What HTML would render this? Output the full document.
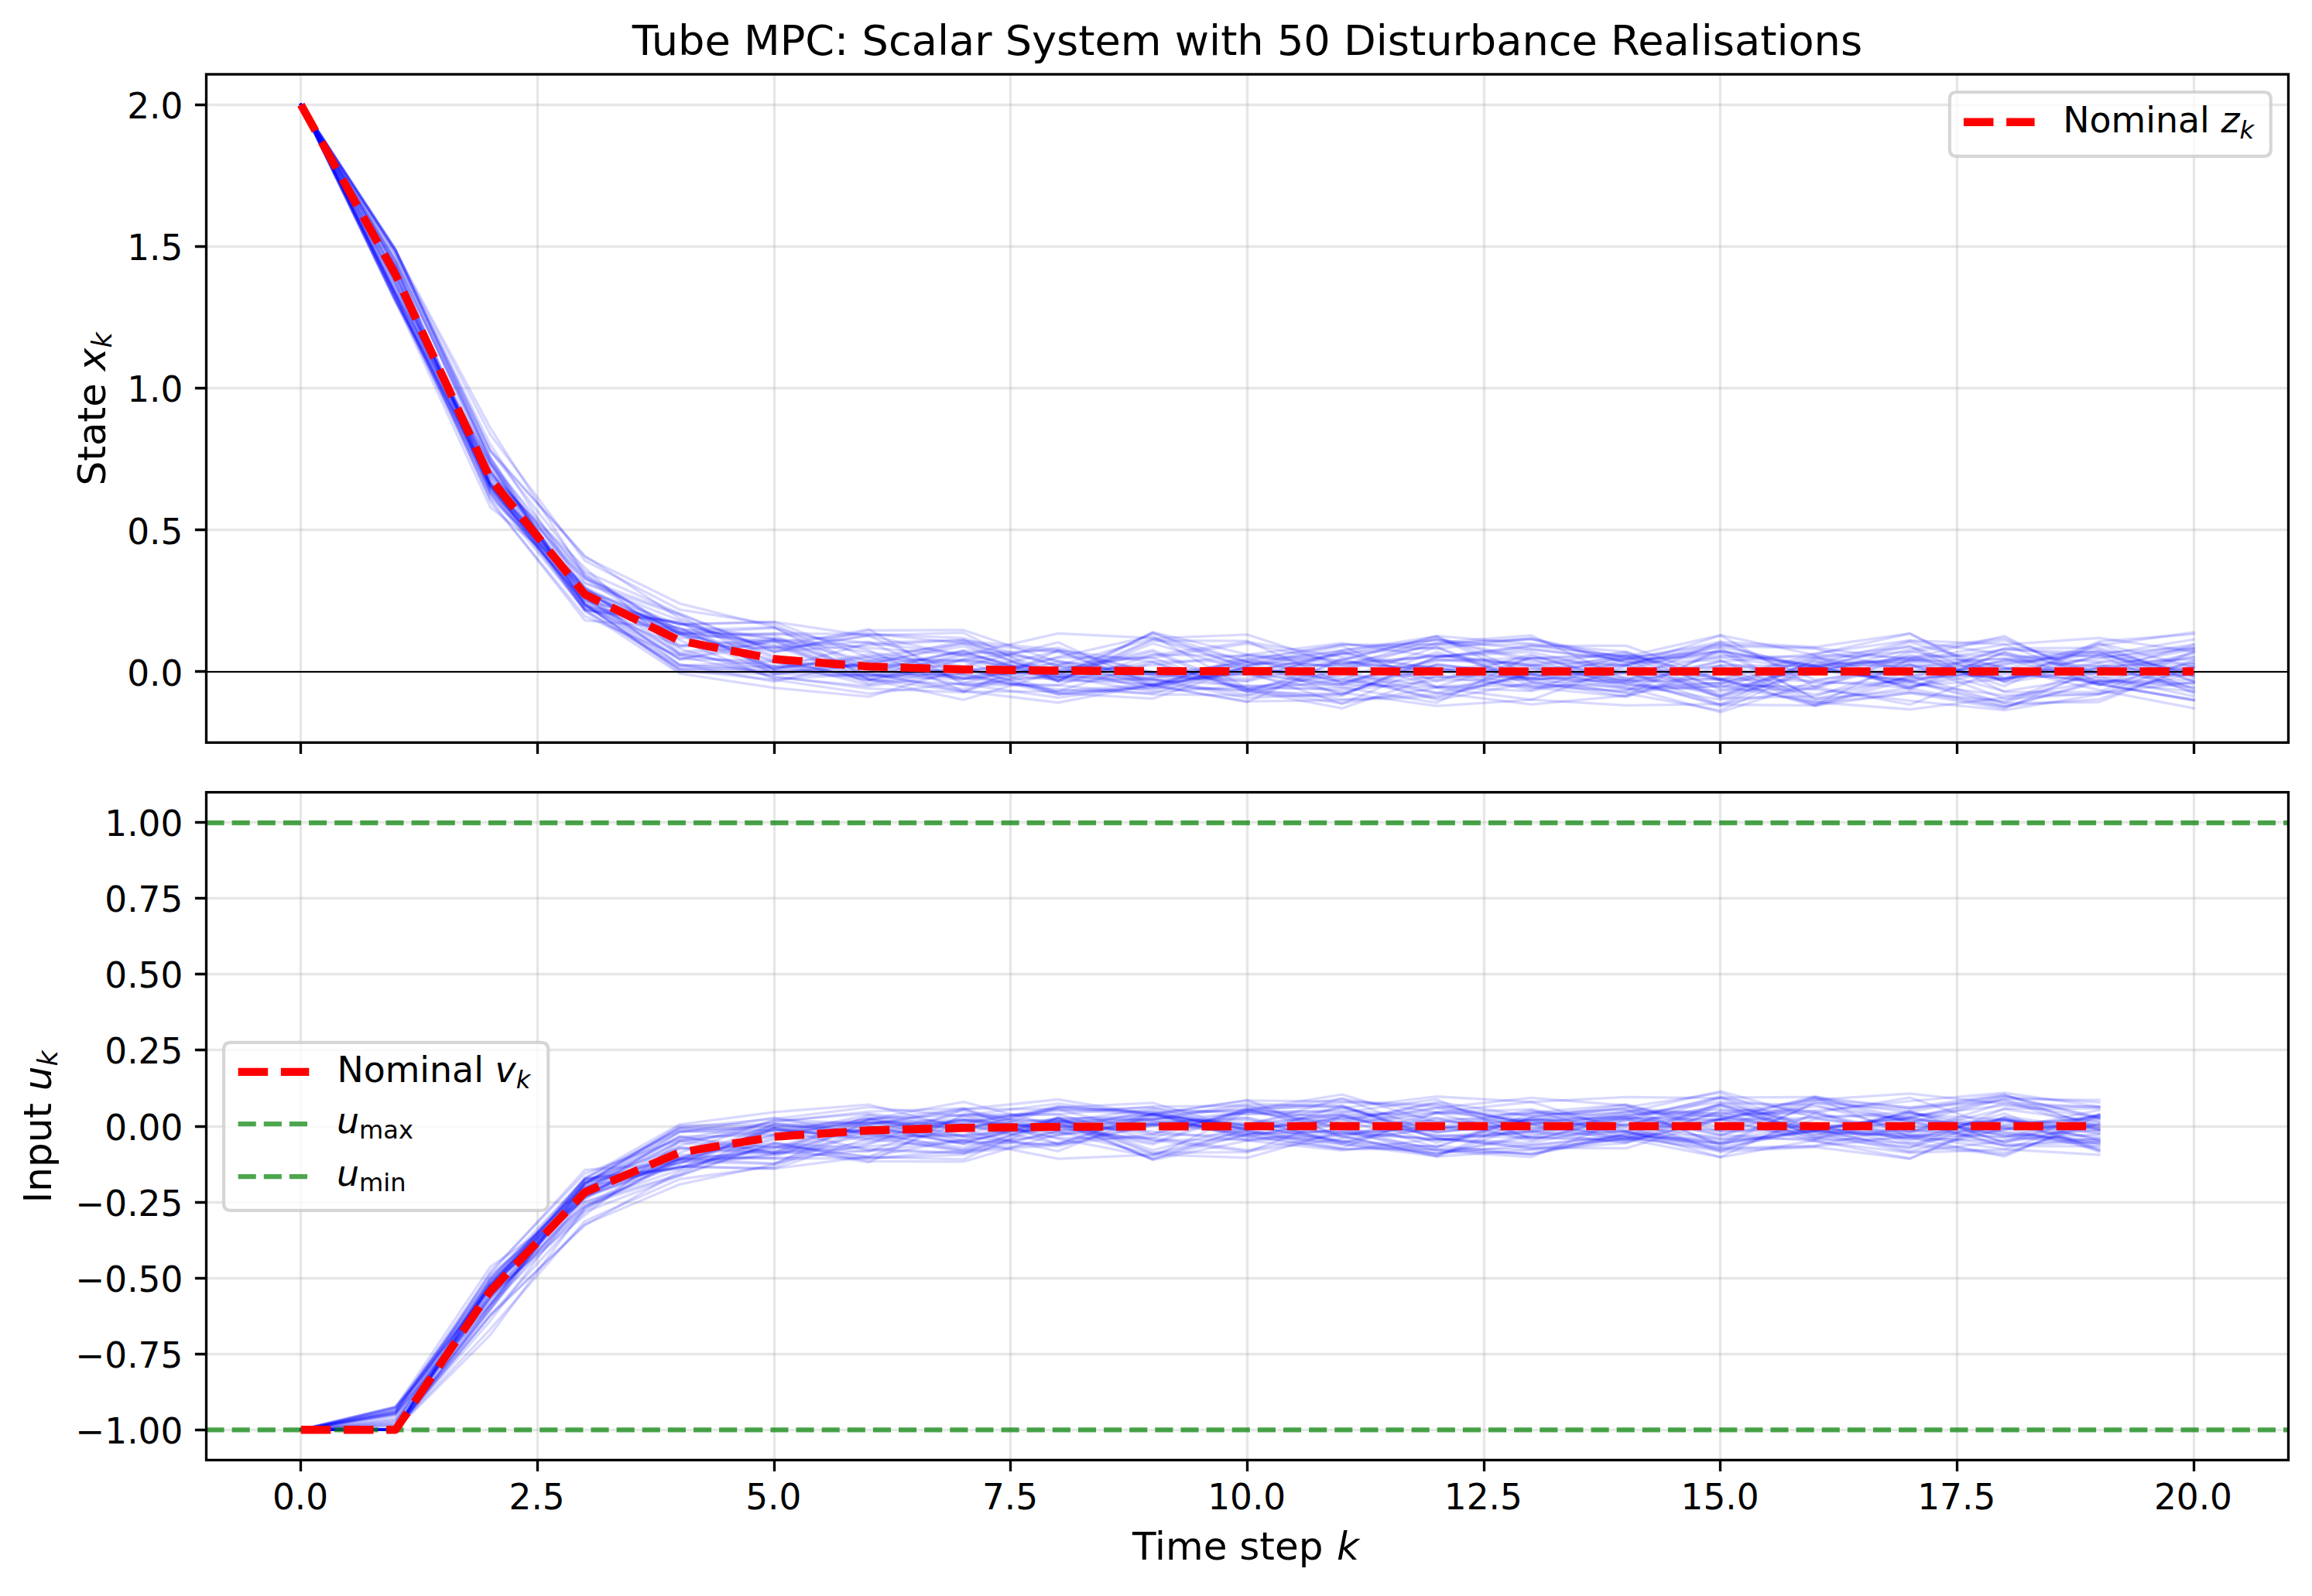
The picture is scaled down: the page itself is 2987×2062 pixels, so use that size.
<!DOCTYPE html>
<html lang="en"><head><meta charset="utf-8"><title>Tube MPC: Scalar System with 50 Disturbance Realisations</title>
<style>html,body{margin:0;padding:0;background:#fff}svg{display:block}</style></head>
<body>
<svg width="2987" height="2062" viewBox="0 0 2987 2062" font-family="'DejaVu Sans','Liberation Sans',sans-serif" fill="#000">
<defs><clipPath id="c1"><rect x="266.5" y="96.0" width="2690.0" height="863.4"/></clipPath><clipPath id="c2"><rect x="266.5" y="1023.6" width="2690.0" height="862.8"/></clipPath></defs>
<rect width="2987" height="2062" fill="#fff"/>
<g stroke="#b0b0b0" stroke-opacity="0.3" stroke-width="3.33" fill="none" clip-path="url(#c1)"><path d="M388.5 959.4V96M694.5 959.4V96M1000.5 959.4V96M1305.5 959.4V96M1611.5 959.4V96M1917.5 959.4V96M2222.5 959.4V96M2528.5 959.4V96M2834.5 959.4V96"/><path d="M266.5 867.5H2956.5M266.5 684.5H2956.5M266.5 501.5H2956.5M266.5 318.5H2956.5M266.5 135.5H2956.5"/></g>
<g clip-path="url(#c1)" fill="none" stroke-linejoin="round">
<g stroke="#0000ff" stroke-opacity="0.15" stroke-width="3.33" stroke-linecap="square">
<path d="M388.77 135.25L511.05 383.82L633.32 643.21L755.59 758.4L877.86 817.89L1000.14 870.6L1122.41 873.39L1244.68 872.25L1366.95 892.96L1489.23 856.25L1611.5 889.93L1733.77 888.76L1856.05 873.83L1978.32 874.29L2100.59 865.12L2222.86 834.38L2345.14 838.08L2467.41 866.91L2589.68 855.41L2711.95 845.11L2834.23 875.48"/>
<path d="M388.77 135.25L511.05 389.69L633.32 600.67L755.59 772.56L877.86 843.24L1000.14 826.48L1122.41 842.65L1244.68 860.87L1366.95 829.78L1489.23 886.08L1611.5 862.13L1733.77 875.88L1856.05 901.86L1978.32 868.73L2100.59 845.7L2222.86 879.17L2345.14 863.22L2467.41 880.13L2589.68 853.63L2711.95 842.07L2834.23 880.09"/>
<path d="M388.77 135.25L511.05 332.67L633.32 582.48L755.59 738.31L877.86 792.61L1000.14 841.49L1122.41 833.62L1244.68 827.14L1366.95 880.13L1489.23 831.26L1611.5 867.13L1733.77 869.06L1856.05 895.16L1978.32 863.67L2100.59 879.28L2222.86 829.16L2345.14 878.14L2467.41 866.06L2589.68 876.59L2711.95 860.86L2834.23 888.4"/>
<path d="M388.77 135.25L511.05 377.22L633.32 610.77L755.59 745.95L877.86 814.05L1000.14 810.48L1122.41 866.77L1244.68 841.37L1366.95 880.75L1489.23 816.58L1611.5 845.72L1733.77 852.81L1856.05 821.71L1978.32 831.61L2100.59 842.1L2222.86 891.05L2345.14 890.62L2467.41 905.35L2589.68 917.63L2711.95 897.07L2834.23 852.88"/>
<path d="M388.77 135.25L511.05 380.95L633.32 638.82L755.59 775.42L877.86 806.54L1000.14 803.4L1122.41 821.68L1244.68 872.68L1366.95 866.33L1489.23 839.79L1611.5 890.69L1733.77 865.15L1856.05 876.51L1978.32 864.48L2100.59 857.89L2222.86 835.98L2345.14 861.13L2467.41 859.98L2589.68 893.14L2711.95 874.06L2834.23 899.53"/>
<path d="M388.77 135.25L511.05 356.26L633.32 616.66L755.59 746.99L877.86 827.06L1000.14 877.37L1122.41 870.75L1244.68 890.3L1366.95 854.35L1489.23 870.98L1611.5 876.8L1733.77 843.91L1856.05 864.74L1978.32 876.64L2100.59 880.59L2222.86 877.16L2345.14 912.5L2467.41 877.35L2589.68 838.16L2711.95 849.16L2834.23 838.06"/>
<path d="M388.77 135.25L511.05 324.76L633.32 561.31L755.59 724.31L877.86 787.56L1000.14 806.76L1122.41 862.87L1244.68 867.04L1366.95 878.2L1489.23 883.6L1611.5 870.56L1733.77 884.69L1856.05 864.35L1978.32 860.61L2100.59 890.06L2222.86 886.48L2345.14 886.61L2467.41 857.97L2589.68 902.89L2711.95 896.16L2834.23 881.06"/>
<path d="M388.77 135.25L511.05 361.57L633.32 610.23L755.59 773.8L877.86 852.1L1000.14 827.35L1122.41 869.34L1244.68 893.72L1366.95 893.07L1489.23 884.02L1611.5 892.92L1733.77 877.97L1856.05 835.66L1978.32 882.04L2100.59 878.39L2222.86 854.65L2345.14 845.15L2467.41 818.74L2589.68 876.19L2711.95 867.31L2834.23 833.23"/>
<path d="M388.77 135.25L511.05 386.1L633.32 623.73L755.59 786.31L877.86 818.7L1000.14 811.23L1122.41 840.25L1244.68 892.96L1366.95 907.74L1489.23 884.48L1611.5 850.26L1733.77 882.42L1856.05 859.34L1978.32 871.13L2100.59 883.75L2222.86 854.4L2345.14 882.69L2467.41 881.56L2589.68 852.37L2711.95 861.28L2834.23 839.47"/>
<path d="M388.77 135.25L511.05 353.81L633.32 636.97L755.59 777.27L877.86 805.9L1000.14 836.26L1122.41 812.92L1244.68 884.9L1366.95 885.4L1489.23 845.93L1611.5 847.78L1733.77 856.6L1856.05 848.73L1978.32 834.58L2100.59 848.43L2222.86 842.21L2345.14 860.07L2467.41 851.27L2589.68 876.04L2711.95 855.75L2834.23 852.33"/>
<path d="M388.77 135.25L511.05 335.63L633.32 597.46L755.59 785.36L877.86 834.68L1000.14 825.25L1122.41 837.21L1244.68 846.06L1366.95 867.07L1489.23 875.01L1611.5 854.81L1733.77 897.98L1856.05 849.14L1978.32 834.73L2100.59 834.15L2222.86 877.43L2345.14 910.39L2467.41 851.21L2589.68 868.41L2711.95 881.58L2834.23 883.66"/>
<path d="M388.77 135.25L511.05 344.16L633.32 626.99L755.59 771.53L877.86 818.09L1000.14 828.9L1122.41 883.49L1244.68 852.9L1366.95 866.59L1489.23 870.58L1611.5 864.47L1733.77 884.93L1856.05 842.46L1978.32 878.51L2100.59 868.97L2222.86 899.89L2345.14 869.53L2467.41 838.82L2589.68 824.51L2711.95 876.49L2834.23 861.63"/>
<path d="M388.77 135.25L511.05 328.44L633.32 607.36L755.59 768.74L877.86 812.63L1000.14 824.98L1122.41 853.99L1244.68 852.08L1366.95 836.96L1489.23 869.88L1611.5 857.06L1733.77 858.69L1856.05 846.99L1978.32 859.63L2100.59 875.01L2222.86 878.22L2345.14 847.63L2467.41 879.54L2589.68 908.47L2711.95 907.01L2834.23 859.37"/>
<path d="M388.77 135.25L511.05 321.96L633.32 597.5L755.59 773.21L877.86 851.7L1000.14 853.55L1122.41 862.86L1244.68 841.66L1366.95 878.03L1489.23 825.93L1611.5 860.4L1733.77 844.37L1856.05 831.4L1978.32 826.23L2100.59 855.48L2222.86 841.25L2345.14 859.99L2467.41 886.35L2589.68 877.28L2711.95 833.8L2834.23 816.95"/>
<path d="M388.77 135.25L511.05 388.3L633.32 620.13L755.59 777.26L877.86 858.31L1000.14 880.53L1122.41 853.88L1244.68 827.88L1366.95 839.48L1489.23 868.67L1611.5 867.44L1733.77 845.36L1856.05 836.42L1978.32 886.4L2100.59 892.9L2222.86 840.7L2345.14 863.47L2467.41 853.78L2589.68 839.41L2711.95 843.29L2834.23 836.54"/>
<path d="M388.77 135.25L511.05 351.84L633.32 630.95L755.59 788.19L877.86 803.37L1000.14 870.8L1122.41 856.76L1244.68 834.77L1366.95 873.99L1489.23 893.82L1611.5 886.41L1733.77 892.12L1856.05 879.27L1978.32 876.4L2100.59 847.52L2222.86 888.87L2345.14 848.86L2467.41 890.83L2589.68 842.56L2711.95 869.99L2834.23 848.61"/>
<path d="M388.77 135.25L511.05 389.58L633.32 633L755.59 762.24L877.86 816.06L1000.14 820.89L1122.41 872.85L1244.68 877.48L1366.95 861.18L1489.23 891.62L1611.5 855.29L1733.77 869.3L1856.05 887.59L1978.32 892.93L2100.59 867.6L2222.86 910.49L2345.14 911.42L2467.41 895.17L2589.68 905.86L2711.95 860.97L2834.23 856.51"/>
<path d="M388.77 135.25L511.05 327.67L633.32 573.87L755.59 762.86L877.86 838.02L1000.14 875.14L1122.41 886.65L1244.68 869.72L1366.95 841.11L1489.23 873.69L1611.5 880.41L1733.77 852.58L1856.05 822.58L1978.32 880.54L2100.59 899.62L2222.86 860.2L2345.14 866.51L2467.41 872.53L2589.68 859L2711.95 841.09L2834.23 891.15"/>
<path d="M388.77 135.25L511.05 323.77L633.32 552.61L755.59 744.35L877.86 820.5L1000.14 861.73L1122.41 860.01L1244.68 885.36L1366.95 872.1L1489.23 817.93L1611.5 855.21L1733.77 841.3L1856.05 880.11L1978.32 845.15L2100.59 883.3L2222.86 904.23L2345.14 864.03L2467.41 880.31L2589.68 911.77L2711.95 903.31L2834.23 862.45"/>
<path d="M388.77 135.25L511.05 388.42L633.32 655.12L755.59 753.89L877.86 801.57L1000.14 850.39L1122.41 878.97L1244.68 846.35L1366.95 818.41L1489.23 824.37L1611.5 854.85L1733.77 861.43L1856.05 825.31L1978.32 851.45L2100.59 888.05L2222.86 920.19L2345.14 880.2L2467.41 854.22L2589.68 851.48L2711.95 839.33L2834.23 873.33"/>
<path d="M388.77 135.25L511.05 363.91L633.32 635L755.59 780.18L877.86 850.76L1000.14 834.8L1122.41 877.15L1244.68 893.16L1366.95 859.76L1489.23 871.42L1611.5 879.52L1733.77 840.69L1856.05 822.08L1978.32 871.44L2100.59 890.82L2222.86 882.19L2345.14 866.83L2467.41 878.56L2589.68 864.92L2711.95 850.84L2834.23 832.42"/>
<path d="M388.77 135.25L511.05 372.9L633.32 615.78L755.59 789.5L877.86 870.03L1000.14 888.7L1122.41 900.05L1244.68 863.53L1366.95 874.9L1489.23 870.08L1611.5 871.88L1733.77 894.85L1856.05 912.14L1978.32 904.15L2100.59 860.39L2222.86 877.56L2345.14 879.74L2467.41 888.71L2589.68 857.33L2711.95 845.41L2834.23 868.61"/>
<path d="M388.77 135.25L511.05 354.48L633.32 624.07L755.59 765.35L877.86 819.82L1000.14 841.56L1122.41 820.87L1244.68 817.43L1366.95 880.09L1489.23 877.81L1611.5 901.8L1733.77 896.51L1856.05 853.77L1978.32 850.16L2100.59 858.95L2222.86 900.46L2345.14 858.4L2467.41 854.27L2589.68 879.76L2711.95 846.97L2834.23 895.58"/>
<path d="M388.77 135.25L511.05 376.71L633.32 607.83L755.59 787.64L877.86 864.29L1000.14 862.78L1122.41 849.73L1244.68 854.36L1366.95 894.7L1489.23 888.04L1611.5 863.32L1733.77 878.6L1856.05 894.92L1978.32 910.12L2100.59 898.75L2222.86 837.33L2345.14 903.4L2467.41 874.17L2589.68 837.74L2711.95 836.99L2834.23 873.52"/>
<path d="M388.77 135.25L511.05 344.89L633.32 630.16L755.59 772.06L877.86 846.52L1000.14 829.36L1122.41 818.78L1244.68 830.93L1366.95 859.48L1489.23 824.86L1611.5 819.88L1733.77 859.86L1856.05 861.69L1978.32 888.06L2100.59 900.13L2222.86 865.67L2345.14 911.15L2467.41 872.87L2589.68 908.37L2711.95 867.22L2834.23 844.65"/>
<path d="M388.77 135.25L511.05 325.18L633.32 591.24L755.59 763.71L877.86 833.07L1000.14 837.06L1122.41 829.11L1244.68 881.92L1366.95 885.31L1489.23 896.98L1611.5 898.43L1733.77 864.78L1856.05 830.33L1978.32 820.97L2100.59 878.07L2222.86 883.14L2345.14 851.35L2467.41 858.2L2589.68 877.27L2711.95 846.35L2834.23 826.11"/>
<path d="M388.77 135.25L511.05 379.62L633.32 625.68L755.59 788.35L877.86 861.32L1000.14 860.29L1122.41 879.55L1244.68 851.33L1366.95 870.79L1489.23 885.64L1611.5 867.83L1733.77 888L1856.05 908.09L1978.32 847.28L2100.59 880.2L2222.86 910.11L2345.14 887.5L2467.41 910.47L2589.68 862.77L2711.95 891.71L2834.23 915.06"/>
<path d="M388.77 135.25L511.05 323.49L633.32 581.02L755.59 719.65L877.86 779.6L1000.14 810.27L1122.41 877.13L1244.68 862.26L1366.95 895.66L1489.23 902.62L1611.5 860.96L1733.77 881.12L1856.05 852.44L1978.32 860.22L2100.59 850.76L2222.86 832.6L2345.14 836.92L2467.41 852.4L2589.68 832.79L2711.95 824.27L2834.23 841.9"/>
<path d="M388.77 135.25L511.05 354.49L633.32 622.1L755.59 759.02L877.86 845.55L1000.14 860.36L1122.41 853.78L1244.68 876.19L1366.95 890.55L1489.23 895.85L1611.5 860.16L1733.77 839.74L1856.05 826.51L1978.32 838.91L2100.59 853.75L2222.86 899.31L2345.14 854.5L2467.41 862.22L2589.68 850.33L2711.95 885.16L2834.23 855.94"/>
<path d="M388.77 135.25L511.05 379.55L633.32 597.87L755.59 743.19L877.86 815.6L1000.14 833.36L1122.41 871.89L1244.68 870.13L1366.95 897.23L1489.23 888.57L1611.5 891.21L1733.77 908.75L1856.05 888.73L1978.32 903.92L2100.59 911.4L2222.86 909.7L2345.14 850.98L2467.41 841.82L2589.68 862L2711.95 883.97L2834.23 904.85"/>
<path d="M388.77 135.25L511.05 360.74L633.32 610.7L755.59 740.51L877.86 819.49L1000.14 818.69L1122.41 819.06L1244.68 824.4L1366.95 860.61L1489.23 867.83L1611.5 889.4L1733.77 871.98L1856.05 904.18L1978.32 882.24L2100.59 894.41L2222.86 885.74L2345.14 907.28L2467.41 916.53L2589.68 901.05L2711.95 880.04L2834.23 870.7"/>
<path d="M388.77 135.25L511.05 381.1L633.32 627.26L755.59 781.16L877.86 864.27L1000.14 867.72L1122.41 856.87L1244.68 877.49L1366.95 848.77L1489.23 821.38L1611.5 889.55L1733.77 903.56L1856.05 897.02L1978.32 871.59L2100.59 869.86L2222.86 860.63L2345.14 908.22L2467.41 895.47L2589.68 915.64L2711.95 863.09L2834.23 849.22"/>
<path d="M388.77 135.25L511.05 368.53L633.32 599.11L755.59 780.35L877.86 868.28L1000.14 870.95L1122.41 858.86L1244.68 830.54L1366.95 842.68L1489.23 882.58L1611.5 868.42L1733.77 909.25L1856.05 857.44L1978.32 876.03L2100.59 895.96L2222.86 917.86L2345.14 861.35L2467.41 834.5L2589.68 880.69L2711.95 828.78L2834.23 819.24"/>
<path d="M388.77 135.25L511.05 366.82L633.32 648.29L755.59 796.13L877.86 847.66L1000.14 873.66L1122.41 889.59L1244.68 894.52L1366.95 840.37L1489.23 887.59L1611.5 846.18L1733.77 863.55L1856.05 846.03L1978.32 859.28L2100.59 842.2L2222.86 879.05L2345.14 897L2467.41 875.63L2589.68 871.02L2711.95 878.55L2834.23 888.02"/>
<path d="M388.77 135.25L511.05 383.58L633.32 627.85L755.59 748.44L877.86 793.24L1000.14 842.93L1122.41 814.48L1244.68 814.02L1366.95 855.29L1489.23 885.85L1611.5 851.95L1733.77 832.55L1856.05 838.16L1978.32 824.78L2100.59 856.15L2222.86 853L2345.14 905.82L2467.41 888.57L2589.68 842.68L2711.95 883.91L2834.23 903.6"/>
<path d="M388.77 135.25L511.05 387.49L633.32 629.52L755.59 765.91L877.86 824.49L1000.14 818.72L1122.41 830.76L1244.68 844.38L1366.95 840.11L1489.23 855.08L1611.5 892.2L1733.77 915.06L1856.05 873.52L1978.32 888.74L2100.59 880.93L2222.86 859.41L2345.14 860.91L2467.41 882.84L2589.68 898.49L2711.95 896.8L2834.23 869.9"/>
<path d="M388.77 135.25L511.05 340.1L633.32 624.53L755.59 781.67L877.86 859.84L1000.14 855.42L1122.41 874.86L1244.68 844.06L1366.95 874.99L1489.23 854.49L1611.5 853.72L1733.77 833.08L1856.05 832.37L1978.32 825L2100.59 850.73L2222.86 902.24L2345.14 899.67L2467.41 859.28L2589.68 878.53L2711.95 857.63L2834.23 893.32"/>
<path d="M388.77 135.25L511.05 345.03L633.32 614.54L755.59 733.45L877.86 844.48L1000.14 864.29L1122.41 845.6L1244.68 867.63L1366.95 870.12L1489.23 877.16L1611.5 897.83L1733.77 899.05L1856.05 848.71L1978.32 842.25L2100.59 870.43L2222.86 848.12L2345.14 848.85L2467.41 835.56L2589.68 893.99L2711.95 894.27L2834.23 842.48"/>
<path d="M388.77 135.25L511.05 370.27L633.32 606.11L755.59 752.77L877.86 794.57L1000.14 864.52L1122.41 830.86L1244.68 826.4L1366.95 870.41L1489.23 842.2L1611.5 894.09L1733.77 854.13L1856.05 867.93L1978.32 850.73L2100.59 847.42L2222.86 897.6L2345.14 854.05L2467.41 889.35L2589.68 912.99L2711.95 881.28L2834.23 893.38"/>
<path d="M388.77 135.25L511.05 344.93L633.32 626.1L755.59 762.74L877.86 806.57L1000.14 803.55L1122.41 849.36L1244.68 876.31L1366.95 864.83L1489.23 846.37L1611.5 829.4L1733.77 848.62L1856.05 863.3L1978.32 879.58L2100.59 859.64L2222.86 841.82L2345.14 902.58L2467.41 892.89L2589.68 913.65L2711.95 879.08L2834.23 882.47"/>
<path d="M388.77 135.25L511.05 378.72L633.32 624.65L755.59 759.35L877.86 835.5L1000.14 827.55L1122.41 877.82L1244.68 904.08L1366.95 867.48L1489.23 859.5L1611.5 845.86L1733.77 830.86L1856.05 848.67L1978.32 838.74L2100.59 851.48L2222.86 849.54L2345.14 864.38L2467.41 829.96L2589.68 863.34L2711.95 870.77L2834.23 871.1"/>
<path d="M388.77 135.25L511.05 345.49L633.32 634.14L755.59 764.73L877.86 858.76L1000.14 867.68L1122.41 871.57L1244.68 865.26L1366.95 857.79L1489.23 849.69L1611.5 894.36L1733.77 896.48L1856.05 859.09L1978.32 870.26L2100.59 851.57L2222.86 845.85L2345.14 860.3L2467.41 850.66L2589.68 821.71L2711.95 883.54L2834.23 904.85"/>
<path d="M388.77 135.25L511.05 383.61L633.32 644.9L755.59 801.57L877.86 811.45L1000.14 865.65L1122.41 868.79L1244.68 840.06L1366.95 853.26L1489.23 878.45L1611.5 886L1733.77 884.05L1856.05 888.19L1978.32 876.61L2100.59 876.45L2222.86 912.61L2345.14 857.79L2467.41 827.98L2589.68 845.23L2711.95 885.22L2834.23 841.35"/>
<path d="M388.77 135.25L511.05 364.49L633.32 628.49L755.59 783.85L877.86 805.59L1000.14 825.59L1122.41 865.46L1244.68 876.2L1366.95 876.25L1489.23 876.57L1611.5 859.35L1733.77 834.5L1856.05 887.45L1978.32 850.34L2100.59 844.53L2222.86 877.18L2345.14 844.47L2467.41 827.37L2589.68 832.23L2711.95 880.51L2834.23 878.13"/>
<path d="M388.77 135.25L511.05 337.56L633.32 594.89L755.59 782.94L877.86 817.06L1000.14 853.24L1122.41 878.38L1244.68 883.9L1366.95 901.44L1489.23 885.47L1611.5 907.01L1733.77 850.62L1856.05 887.63L1978.32 885.18L2100.59 886.83L2222.86 882.92L2345.14 890.21L2467.41 845.86L2589.68 886.58L2711.95 830.95L2834.23 862.06"/>
<path d="M388.77 135.25L511.05 322.36L633.32 591.56L755.59 780.79L877.86 810.78L1000.14 865L1122.41 848.28L1244.68 831.93L1366.95 873.9L1489.23 879.25L1611.5 868.97L1733.77 843.34L1856.05 826.53L1978.32 854.39L2100.59 860.23L2222.86 820.99L2345.14 887.7L2467.41 841.91L2589.68 827.36L2711.95 871.37L2834.23 858.22"/>
<path d="M388.77 135.25L511.05 339.25L633.32 590.75L755.59 780.96L877.86 865.54L1000.14 878.24L1122.41 896.17L1244.68 882.71L1366.95 849.48L1489.23 849.79L1611.5 831.54L1733.77 855.75L1856.05 865.91L1978.32 891.76L2100.59 851.67L2222.86 829.29L2345.14 835.98L2467.41 818.41L2589.68 881.77L2711.95 863.52L2834.23 866.98"/>
<path d="M388.77 135.25L511.05 337.77L633.32 627.16L755.59 760.63L877.86 816.7L1000.14 855.14L1122.41 884.83L1244.68 863L1366.95 897.12L1489.23 885.4L1611.5 906.21L1733.77 904.62L1856.05 900.04L1978.32 870.84L2100.59 859.06L2222.86 832.14L2345.14 866.42L2467.41 848.39L2589.68 846.36L2711.95 855.24L2834.23 837.42"/>
<path d="M388.77 135.25L511.05 323.11L633.32 582.93L755.59 718.1L877.86 798.88L1000.14 847.8L1122.41 861.41L1244.68 853.38L1366.95 875.02L1489.23 817.69L1611.5 864.55L1733.77 858.08L1856.05 833.39L1978.32 832.62L2100.59 848.38L2222.86 820.61L2345.14 846.32L2467.41 849.44L2589.68 864.94L2711.95 831.67L2834.23 880.89"/>
<path d="M388.77 135.25L511.05 380.82L633.32 637.86L755.59 788.21L877.86 804.82L1000.14 838.61L1122.41 821.11L1244.68 847.49L1366.95 879.66L1489.23 827.56L1611.5 828.16L1733.77 882.4L1856.05 851.35L1978.32 857.11L2100.59 884.05L2222.86 892.86L2345.14 860.78L2467.41 887.05L2589.68 867.28L2711.95 864.51L2834.23 863.5"/>
</g>
<path d="M266.5 868H2956.5" stroke="#000" stroke-width="2.08"/>
<path d="M388.77 135.25L511.05 354.91L633.32 618.51L755.59 767.89L877.86 827.64L1000.14 851.54L1122.41 861.1L1244.68 864.92L1366.95 866.45L1489.23 867.06L1611.5 867.31L1733.77 867.4L1856.05 867.44L1978.32 867.46L2100.59 867.47L2222.86 867.47L2345.14 867.47L2467.41 867.47L2589.68 867.47L2711.95 867.47L2834.23 867.47" stroke="#ff0000" stroke-width="10.42" stroke-dasharray="38.54 16.67"/>
</g>
<path d="M388.5 959.4v14.58M694.5 959.4v14.58M1000.5 959.4v14.58M1305.5 959.4v14.58M1611.5 959.4v14.58M1917.5 959.4v14.58M2222.5 959.4v14.58M2528.5 959.4v14.58M2834.5 959.4v14.58M266.5 867.5h-14.58M266.5 684.5h-14.58M266.5 501.5h-14.58M266.5 318.5h-14.58M266.5 135.5h-14.58" stroke="#000" stroke-width="3.33" fill="none"/>
<rect x="266.5" y="96" width="2690" height="863.4" fill="none" stroke="#000" stroke-width="3.33"/>
<g font-size="45.38" text-anchor="end">
<text x="236.33" y="885.57">0.0</text>
<text x="236.33" y="702.51">0.5</text>
<text x="236.33" y="519.46">1.0</text>
<text x="236.33" y="336.4">1.5</text>
<text x="236.33" y="153.35">2.0</text>
</g>
<g stroke="#b0b0b0" stroke-opacity="0.3" stroke-width="3.33" fill="none" clip-path="url(#c2)"><path d="M388.5 1886.4V1023.6M694.5 1886.4V1023.6M1000.5 1886.4V1023.6M1305.5 1886.4V1023.6M1611.5 1886.4V1023.6M1917.5 1886.4V1023.6M2222.5 1886.4V1023.6M2528.5 1886.4V1023.6M2834.5 1886.4V1023.6"/><path d="M266.5 1847.5H2956.5M266.5 1749.5H2956.5M266.5 1651.5H2956.5M266.5 1553.5H2956.5M266.5 1455.5H2956.5M266.5 1356.5H2956.5M266.5 1258.5H2956.5M266.5 1160.5H2956.5M266.5 1062.5H2956.5"/></g>
<g clip-path="url(#c2)" fill="none" stroke-linejoin="round">
<g stroke="#0000ff" stroke-opacity="0.15" stroke-width="3.33" stroke-linecap="square">
<path d="M388.77 1847.18L511.05 1822.41L633.32 1647.18L755.59 1548.47L877.86 1497.49L1000.14 1452.32L1122.41 1449.92L1244.68 1450.9L1366.95 1433.16L1489.23 1464.62L1611.5 1435.76L1733.77 1436.75L1856.05 1449.55L1978.32 1449.15L2100.59 1457.02L2222.86 1483.36L2345.14 1480.18L2467.41 1455.48L2589.68 1465.34L2711.95 1474.16"/>
<path d="M388.77 1847.18L511.05 1817.38L633.32 1683.64L755.59 1536.33L877.86 1475.76L1000.14 1490.13L1122.41 1476.27L1244.68 1460.66L1366.95 1487.3L1489.23 1439.05L1611.5 1459.57L1733.77 1447.8L1856.05 1425.53L1978.32 1453.92L2100.59 1473.66L2222.86 1444.97L2345.14 1458.64L2467.41 1444.15L2589.68 1466.86L2711.95 1476.77"/>
<path d="M388.77 1847.18L511.05 1847.18L633.32 1699.23L755.59 1565.69L877.86 1519.15L1000.14 1477.26L1122.41 1484.01L1244.68 1489.57L1366.95 1444.15L1489.23 1486.03L1611.5 1455.29L1733.77 1453.64L1856.05 1431.27L1978.32 1458.25L2100.59 1444.88L2222.86 1487.83L2345.14 1445.86L2467.41 1456.21L2589.68 1447.19L2711.95 1460.66"/>
<path d="M388.77 1847.18L511.05 1828.07L633.32 1674.98L755.59 1559.14L877.86 1500.78L1000.14 1503.84L1122.41 1455.6L1244.68 1477.37L1366.95 1443.62L1489.23 1498.61L1611.5 1473.64L1733.77 1467.56L1856.05 1494.22L1978.32 1485.73L2100.59 1476.74L2222.86 1434.79L2345.14 1435.16L2467.41 1422.54L2589.68 1412.02L2711.95 1429.63"/>
<path d="M388.77 1847.18L511.05 1824.87L633.32 1650.95L755.59 1533.88L877.86 1507.21L1000.14 1509.91L1122.41 1494.24L1244.68 1450.54L1366.95 1455.98L1489.23 1478.72L1611.5 1435.1L1733.77 1456.99L1856.05 1447.25L1978.32 1457.56L2100.59 1463.21L2222.86 1481.98L2345.14 1460.43L2467.41 1461.42L2589.68 1433L2711.95 1449.35"/>
<path d="M388.77 1847.18L511.05 1846.03L633.32 1669.94L755.59 1558.25L877.86 1489.63L1000.14 1446.52L1122.41 1452.19L1244.68 1435.44L1366.95 1466.24L1489.23 1452L1611.5 1447L1733.77 1475.19L1856.05 1457.34L1978.32 1447.14L2100.59 1443.75L2222.86 1446.69L2345.14 1416.41L2467.41 1446.53L2589.68 1480.12L2711.95 1470.69"/>
<path d="M388.77 1847.18L511.05 1847.18L633.32 1717.37L755.59 1577.69L877.86 1523.48L1000.14 1507.02L1122.41 1458.94L1244.68 1455.37L1366.95 1445.8L1489.23 1441.17L1611.5 1452.35L1733.77 1440.25L1856.05 1457.67L1978.32 1460.88L2100.59 1435.64L2222.86 1438.71L2345.14 1438.6L2467.41 1463.14L2589.68 1424.65L2711.95 1430.41"/>
<path d="M388.77 1847.18L511.05 1841.48L633.32 1675.44L755.59 1535.27L877.86 1468.17L1000.14 1489.38L1122.41 1453.4L1244.68 1432.5L1366.95 1433.06L1489.23 1440.82L1611.5 1433.19L1733.77 1446L1856.05 1482.26L1978.32 1442.52L2100.59 1445.64L2222.86 1465.98L2345.14 1474.13L2467.41 1496.76L2589.68 1447.53L2711.95 1455.14"/>
<path d="M388.77 1847.18L511.05 1820.46L633.32 1663.88L755.59 1524.55L877.86 1496.79L1000.14 1503.2L1122.41 1478.32L1244.68 1433.15L1366.95 1420.49L1489.23 1440.42L1611.5 1469.75L1733.77 1442.19L1856.05 1461.97L1978.32 1451.86L2100.59 1441.05L2222.86 1466.2L2345.14 1441.95L2467.41 1442.92L2589.68 1467.94L2711.95 1460.31"/>
<path d="M388.77 1847.18L511.05 1847.18L633.32 1652.53L755.59 1532.3L877.86 1507.76L1000.14 1481.75L1122.41 1501.75L1244.68 1440.07L1366.95 1439.64L1489.23 1473.45L1611.5 1471.87L1733.77 1464.32L1856.05 1471.06L1978.32 1483.18L2100.59 1471.31L2222.86 1476.64L2345.14 1461.34L2467.41 1468.88L2589.68 1447.66L2711.95 1465.04"/>
<path d="M388.77 1847.18L511.05 1847.18L633.32 1686.39L755.59 1525.37L877.86 1483.1L1000.14 1491.18L1122.41 1480.93L1244.68 1473.35L1366.95 1455.34L1489.23 1448.54L1611.5 1465.85L1733.77 1428.85L1856.05 1470.71L1978.32 1483.05L2100.59 1483.55L2222.86 1446.47L2345.14 1418.22L2467.41 1468.93L2589.68 1454.2L2711.95 1442.91"/>
<path d="M388.77 1847.18L511.05 1847.18L633.32 1661.09L755.59 1537.22L877.86 1497.32L1000.14 1488.05L1122.41 1441.27L1244.68 1467.49L1366.95 1455.75L1489.23 1452.34L1611.5 1457.57L1733.77 1440.04L1856.05 1476.44L1978.32 1445.54L2100.59 1453.72L2222.86 1427.21L2345.14 1453.24L2467.41 1479.55L2589.68 1491.82L2711.95 1447.27"/>
<path d="M388.77 1847.18L511.05 1847.18L633.32 1677.91L755.59 1539.61L877.86 1502L1000.14 1491.41L1122.41 1466.55L1244.68 1468.19L1366.95 1481.15L1489.23 1452.94L1611.5 1463.92L1733.77 1462.53L1856.05 1472.55L1978.32 1461.72L2100.59 1448.54L2222.86 1445.79L2345.14 1472L2467.41 1444.66L2589.68 1419.87L2711.95 1421.12"/>
<path d="M388.77 1847.18L511.05 1847.18L633.32 1686.36L755.59 1535.77L877.86 1468.51L1000.14 1466.93L1122.41 1458.95L1244.68 1477.12L1366.95 1445.95L1489.23 1490.6L1611.5 1461.06L1733.77 1474.79L1856.05 1485.91L1978.32 1490.34L2100.59 1465.28L2222.86 1477.47L2345.14 1461.41L2467.41 1438.82L2589.68 1446.59L2711.95 1483.86"/>
<path d="M388.77 1847.18L511.05 1818.57L633.32 1666.96L755.59 1532.3L877.86 1462.85L1000.14 1443.81L1122.41 1466.65L1244.68 1488.92L1366.95 1478.99L1489.23 1453.97L1611.5 1455.03L1733.77 1473.95L1856.05 1481.61L1978.32 1438.78L2100.59 1433.21L2222.86 1477.94L2345.14 1458.42L2467.41 1466.73L2589.68 1479.05L2711.95 1475.72"/>
<path d="M388.77 1847.18L511.05 1847.18L633.32 1657.69L755.59 1522.94L877.86 1509.93L1000.14 1452.14L1122.41 1464.18L1244.68 1483.02L1366.95 1449.42L1489.23 1432.42L1611.5 1438.76L1733.77 1433.88L1856.05 1444.89L1978.32 1447.35L2100.59 1472.09L2222.86 1436.66L2345.14 1470.95L2467.41 1434.98L2589.68 1476.35L2711.95 1452.84"/>
<path d="M388.77 1847.18L511.05 1817.47L633.32 1655.94L755.59 1545.18L877.86 1499.05L1000.14 1494.91L1122.41 1450.39L1244.68 1446.42L1366.95 1460.39L1489.23 1434.3L1611.5 1465.44L1733.77 1453.43L1856.05 1437.75L1978.32 1433.18L2100.59 1454.89L2222.86 1418.13L2345.14 1417.34L2467.41 1431.26L2589.68 1422.1L2711.95 1460.57"/>
<path d="M388.77 1847.18L511.05 1847.18L633.32 1706.6L755.59 1544.65L877.86 1480.24L1000.14 1448.43L1122.41 1438.56L1244.68 1453.07L1366.95 1477.59L1489.23 1449.67L1611.5 1443.91L1733.77 1467.76L1856.05 1493.47L1978.32 1443.8L2100.59 1427.45L2222.86 1461.23L2345.14 1455.82L2467.41 1450.67L2589.68 1462.26L2711.95 1477.6"/>
<path d="M388.77 1847.18L511.05 1847.18L633.32 1724.82L755.59 1560.51L877.86 1495.25L1000.14 1459.91L1122.41 1461.39L1244.68 1439.67L1366.95 1451.03L1489.23 1497.46L1611.5 1465.5L1733.77 1477.43L1856.05 1444.17L1978.32 1474.13L2100.59 1441.44L2222.86 1423.5L2345.14 1457.95L2467.41 1444L2589.68 1417.04L2711.95 1424.29"/>
<path d="M388.77 1847.18L511.05 1818.47L633.32 1636.97L755.59 1552.33L877.86 1511.48L1000.14 1469.64L1122.41 1445.14L1244.68 1473.1L1366.95 1497.04L1489.23 1491.93L1611.5 1465.82L1733.77 1460.18L1856.05 1491.13L1978.32 1468.73L2100.59 1437.36L2222.86 1409.82L2345.14 1444.09L2467.41 1466.35L2589.68 1468.71L2711.95 1479.12"/>
<path d="M388.77 1847.18L511.05 1839.48L633.32 1654.22L755.59 1529.8L877.86 1469.32L1000.14 1482.99L1122.41 1446.7L1244.68 1432.98L1366.95 1461.61L1489.23 1451.62L1611.5 1444.67L1733.77 1477.95L1856.05 1493.9L1978.32 1451.6L2100.59 1434.99L2222.86 1442.38L2345.14 1455.55L2467.41 1445.5L2589.68 1457.19L2711.95 1469.25"/>
<path d="M388.77 1847.18L511.05 1831.77L633.32 1670.69L755.59 1521.82L877.86 1452.8L1000.14 1436.8L1122.41 1427.08L1244.68 1458.37L1366.95 1448.63L1489.23 1452.76L1611.5 1451.22L1733.77 1431.54L1856.05 1416.72L1978.32 1423.57L2100.59 1461.07L2222.86 1446.35L2345.14 1444.48L2467.41 1436.8L2589.68 1463.69L2711.95 1473.9"/>
<path d="M388.77 1847.18L511.05 1847.18L633.32 1663.58L755.59 1542.52L877.86 1495.83L1000.14 1477.2L1122.41 1494.94L1244.68 1497.88L1366.95 1444.18L1489.23 1446.14L1611.5 1425.58L1733.77 1430.11L1856.05 1466.74L1978.32 1469.84L2100.59 1462.3L2222.86 1426.73L2345.14 1462.77L2467.41 1466.31L2589.68 1444.47L2711.95 1472.56"/>
<path d="M388.77 1847.18L511.05 1828.5L633.32 1677.5L755.59 1523.41L877.86 1457.73L1000.14 1459.02L1122.41 1470.2L1244.68 1466.23L1366.95 1431.66L1489.23 1437.37L1611.5 1458.55L1733.77 1445.46L1856.05 1431.48L1978.32 1418.45L2100.59 1428.19L2222.86 1480.83L2345.14 1424.2L2467.41 1449.26L2589.68 1480.48L2711.95 1481.12"/>
<path d="M388.77 1847.18L511.05 1847.18L633.32 1658.36L755.59 1536.76L877.86 1472.95L1000.14 1487.66L1122.41 1496.73L1244.68 1486.32L1366.95 1461.84L1489.23 1491.52L1611.5 1495.79L1733.77 1461.52L1856.05 1459.96L1978.32 1437.36L2100.59 1427.01L2222.86 1456.55L2345.14 1417.57L2467.41 1450.37L2589.68 1419.95L2711.95 1455.22"/>
<path d="M388.77 1847.18L511.05 1847.18L633.32 1691.72L755.59 1543.92L877.86 1484.48L1000.14 1481.06L1122.41 1487.88L1244.68 1442.61L1366.95 1439.71L1489.23 1429.71L1611.5 1428.47L1733.77 1457.31L1856.05 1486.83L1978.32 1494.85L2100.59 1445.92L2222.86 1441.57L2345.14 1468.81L2467.41 1462.94L2589.68 1446.6L2711.95 1473.1"/>
<path d="M388.77 1847.18L511.05 1826.01L633.32 1662.2L755.59 1522.8L877.86 1460.27L1000.14 1461.16L1122.41 1444.65L1244.68 1468.83L1366.95 1452.16L1489.23 1439.43L1611.5 1454.69L1733.77 1437.41L1856.05 1420.19L1978.32 1472.3L2100.59 1444.09L2222.86 1418.46L2345.14 1437.84L2467.41 1418.15L2589.68 1459.03L2711.95 1434.23"/>
<path d="M388.77 1847.18L511.05 1847.18L633.32 1700.48L755.59 1581.68L877.86 1530.3L1000.14 1504.01L1122.41 1446.72L1244.68 1459.47L1366.95 1430.84L1489.23 1424.88L1611.5 1460.58L1733.77 1443.3L1856.05 1467.88L1978.32 1461.21L2100.59 1469.32L2222.86 1484.88L2345.14 1481.18L2467.41 1467.91L2589.68 1484.72L2711.95 1492.02"/>
<path d="M388.77 1847.18L511.05 1847.18L633.32 1665.28L755.59 1547.94L877.86 1473.79L1000.14 1461.09L1122.41 1466.74L1244.68 1447.53L1366.95 1435.22L1489.23 1430.68L1611.5 1461.26L1733.77 1478.77L1856.05 1490.1L1978.32 1479.47L2100.59 1466.76L2222.86 1427.72L2345.14 1466.12L2467.41 1459.5L2589.68 1469.69L2711.95 1439.84"/>
<path d="M388.77 1847.18L511.05 1826.07L633.32 1686.04L755.59 1561.51L877.86 1499.45L1000.14 1484.23L1122.41 1451.21L1244.68 1452.72L1366.95 1429.5L1489.23 1436.92L1611.5 1434.66L1733.77 1419.62L1856.05 1436.78L1978.32 1423.76L2100.59 1417.35L2222.86 1418.81L2345.14 1469.13L2467.41 1476.98L2589.68 1459.68L2711.95 1440.86"/>
<path d="M388.77 1847.18L511.05 1842.19L633.32 1675.04L755.59 1563.8L877.86 1496.12L1000.14 1496.81L1122.41 1496.49L1244.68 1491.91L1366.95 1460.88L1489.23 1454.69L1611.5 1436.2L1733.77 1451.13L1856.05 1423.54L1978.32 1442.34L2100.59 1431.91L2222.86 1439.34L2345.14 1420.88L2467.41 1412.96L2589.68 1426.23L2711.95 1444.22"/>
<path d="M388.77 1847.18L511.05 1824.74L633.32 1660.85L755.59 1528.96L877.86 1457.74L1000.14 1454.79L1122.41 1464.08L1244.68 1446.42L1366.95 1471.02L1489.23 1494.49L1611.5 1436.08L1733.77 1424.07L1856.05 1429.67L1978.32 1451.47L2100.59 1452.95L2222.86 1460.86L2345.14 1420.08L2467.41 1431L2589.68 1413.72L2711.95 1458.76"/>
<path d="M388.77 1847.18L511.05 1835.52L633.32 1684.98L755.59 1529.66L877.86 1454.31L1000.14 1452.02L1122.41 1462.37L1244.68 1486.65L1366.95 1476.25L1489.23 1442.05L1611.5 1454.18L1733.77 1419.2L1856.05 1463.6L1978.32 1447.66L2100.59 1430.58L2222.86 1411.82L2345.14 1460.25L2467.41 1483.25L2589.68 1443.67L2711.95 1488.15"/>
<path d="M388.77 1847.18L511.05 1836.98L633.32 1642.83L755.59 1516.13L877.86 1471.98L1000.14 1449.69L1122.41 1436.04L1244.68 1431.82L1366.95 1478.23L1489.23 1437.76L1611.5 1473.24L1733.77 1458.36L1856.05 1473.37L1978.32 1462.02L2100.59 1476.65L2222.86 1445.08L2345.14 1429.69L2467.41 1448.01L2589.68 1451.96L2711.95 1445.5"/>
<path d="M388.77 1847.18L511.05 1822.62L633.32 1660.34L755.59 1557.01L877.86 1518.61L1000.14 1476.03L1122.41 1500.41L1244.68 1500.81L1366.95 1465.43L1489.23 1439.25L1611.5 1468.3L1733.77 1484.93L1856.05 1480.11L1978.32 1491.58L2100.59 1464.7L2222.86 1467.4L2345.14 1422.14L2467.41 1436.92L2589.68 1476.24L2711.95 1440.91"/>
<path d="M388.77 1847.18L511.05 1819.26L633.32 1658.92L755.59 1542.03L877.86 1491.83L1000.14 1496.78L1122.41 1486.46L1244.68 1474.79L1366.95 1478.45L1489.23 1465.62L1611.5 1433.81L1733.77 1414.21L1856.05 1449.82L1978.32 1436.77L2100.59 1443.46L2222.86 1461.9L2345.14 1460.62L2467.41 1441.82L2589.68 1428.41L2711.95 1429.86"/>
<path d="M388.77 1847.18L511.05 1847.18L633.32 1663.19L755.59 1528.53L877.86 1461.54L1000.14 1465.33L1122.41 1448.67L1244.68 1475.06L1366.95 1448.55L1489.23 1466.12L1611.5 1466.79L1733.77 1484.47L1856.05 1485.08L1978.32 1491.39L2100.59 1469.35L2222.86 1425.2L2345.14 1427.4L2467.41 1462.02L2589.68 1445.52L2711.95 1463.43"/>
<path d="M388.77 1847.18L511.05 1847.18L633.32 1671.76L755.59 1569.85L877.86 1474.7L1000.14 1457.73L1122.41 1473.74L1244.68 1454.86L1366.95 1452.73L1489.23 1446.7L1611.5 1428.98L1733.77 1427.93L1856.05 1471.08L1978.32 1476.61L2100.59 1452.46L2222.86 1471.58L2345.14 1470.95L2467.41 1482.35L2589.68 1432.27L2711.95 1432.03"/>
<path d="M388.77 1847.18L511.05 1834.02L633.32 1678.98L755.59 1553.29L877.86 1517.47L1000.14 1457.53L1122.41 1486.37L1244.68 1490.2L1366.95 1452.48L1489.23 1476.65L1611.5 1432.18L1733.77 1466.43L1856.05 1454.61L1978.32 1469.34L2100.59 1472.18L2222.86 1429.18L2345.14 1466.5L2467.41 1436.25L2589.68 1415.99L2711.95 1443.16"/>
<path d="M388.77 1847.18L511.05 1847.18L633.32 1661.84L755.59 1544.75L877.86 1507.19L1000.14 1509.78L1122.41 1470.52L1244.68 1447.43L1366.95 1457.26L1489.23 1473.08L1611.5 1487.63L1733.77 1471.15L1856.05 1458.57L1978.32 1444.62L2100.59 1461.71L2222.86 1476.98L2345.14 1424.91L2467.41 1433.22L2589.68 1415.42L2711.95 1445.05"/>
<path d="M388.77 1847.18L511.05 1826.78L633.32 1663.09L755.59 1547.66L877.86 1482.4L1000.14 1489.21L1122.41 1446.13L1244.68 1423.63L1366.95 1454.99L1489.23 1461.83L1611.5 1473.51L1733.77 1486.37L1856.05 1471.11L1978.32 1479.62L2100.59 1468.7L2222.86 1470.36L2345.14 1457.65L2467.41 1487.14L2589.68 1458.54L2711.95 1452.17"/>
<path d="M388.77 1847.18L511.05 1847.18L633.32 1654.96L755.59 1543.05L877.86 1462.46L1000.14 1454.82L1122.41 1451.49L1244.68 1456.89L1366.95 1463.3L1489.23 1470.23L1611.5 1431.96L1733.77 1430.14L1856.05 1462.18L1978.32 1452.61L2100.59 1468.62L2222.86 1473.53L2345.14 1461.14L2467.41 1469.41L2589.68 1494.22L2711.95 1441.23"/>
<path d="M388.77 1847.18L511.05 1822.59L633.32 1645.74L755.59 1511.47L877.86 1503.01L1000.14 1456.56L1122.41 1453.86L1244.68 1478.49L1366.95 1467.18L1489.23 1445.59L1611.5 1439.12L1733.77 1440.79L1856.05 1437.24L1978.32 1447.17L2100.59 1447.3L2222.86 1416.31L2345.14 1463.29L2467.41 1488.84L2589.68 1474.06L2711.95 1439.79"/>
<path d="M388.77 1847.18L511.05 1838.97L633.32 1659.79L755.59 1526.66L877.86 1508.03L1000.14 1490.89L1122.41 1456.72L1244.68 1447.52L1366.95 1447.47L1489.23 1447.2L1611.5 1461.96L1733.77 1483.25L1856.05 1437.88L1978.32 1469.68L2100.59 1474.66L2222.86 1446.68L2345.14 1474.71L2467.41 1489.36L2589.68 1485.2L2711.95 1443.82"/>
<path d="M388.77 1847.18L511.05 1847.18L633.32 1688.59L755.59 1527.44L877.86 1498.2L1000.14 1467.19L1122.41 1445.65L1244.68 1440.92L1366.95 1425.89L1489.23 1439.57L1611.5 1421.12L1733.77 1469.44L1856.05 1437.73L1978.32 1439.82L2100.59 1438.41L2222.86 1441.76L2345.14 1435.51L2467.41 1473.52L2589.68 1438.62L2711.95 1486.3"/>
<path d="M388.77 1847.18L511.05 1847.18L633.32 1691.45L755.59 1529.28L877.86 1503.58L1000.14 1457.12L1122.41 1471.45L1244.68 1485.46L1366.95 1449.49L1489.23 1444.9L1611.5 1453.71L1733.77 1475.68L1856.05 1490.08L1978.32 1466.21L2100.59 1461.21L2222.86 1494.83L2345.14 1437.66L2467.41 1476.91L2589.68 1489.38L2711.95 1451.66"/>
<path d="M388.77 1847.18L511.05 1847.18L633.32 1692.14L755.59 1529.13L877.86 1456.66L1000.14 1445.77L1122.41 1430.41L1244.68 1441.94L1366.95 1470.42L1489.23 1470.15L1611.5 1485.79L1733.77 1465.04L1856.05 1456.34L1978.32 1434.19L2100.59 1468.54L2222.86 1487.72L2345.14 1481.98L2467.41 1497.04L2589.68 1442.75L2711.95 1458.38"/>
<path d="M388.77 1847.18L511.05 1847.18L633.32 1660.93L755.59 1546.56L877.86 1498.51L1000.14 1465.57L1122.41 1440.13L1244.68 1458.83L1366.95 1429.59L1489.23 1439.64L1611.5 1421.8L1733.77 1423.16L1856.05 1427.09L1978.32 1452.11L2100.59 1462.2L2222.86 1485.27L2345.14 1455.9L2467.41 1471.35L2589.68 1473.09L2711.95 1465.48"/>
<path d="M388.77 1847.18L511.05 1847.18L633.32 1698.84L755.59 1583.01L877.86 1513.78L1000.14 1471.86L1122.41 1460.19L1244.68 1467.07L1366.95 1448.53L1489.23 1497.66L1611.5 1457.5L1733.77 1463.05L1856.05 1484.21L1978.32 1484.86L2100.59 1471.36L2222.86 1495.16L2345.14 1473.12L2467.41 1470.45L2589.68 1457.16L2711.95 1485.68"/>
<path d="M388.77 1847.18L511.05 1824.98L633.32 1651.77L755.59 1522.93L877.86 1508.69L1000.14 1479.73L1122.41 1494.73L1244.68 1472.12L1366.95 1444.55L1489.23 1489.2L1611.5 1488.69L1733.77 1442.21L1856.05 1468.82L1978.32 1463.87L2100.59 1440.79L2222.86 1433.24L2345.14 1460.73L2467.41 1438.22L2589.68 1455.16L2711.95 1457.54"/>
</g>
<path d="M266.5 1063H2956.5" stroke="#008000" stroke-opacity="0.7" stroke-width="6.25" stroke-dasharray="23.13 10"/><path d="M266.5 1847.38H2956.5" stroke="#008000" stroke-opacity="0.7" stroke-width="6.25" stroke-dasharray="23.13 10"/>
<path d="M388.77 1847.18L511.05 1847.18L633.32 1668.35L755.59 1540.34L877.86 1489.14L1000.14 1468.65L1122.41 1460.46L1244.68 1457.18L1366.95 1455.87L1489.23 1455.35L1611.5 1455.14L1733.77 1455.06L1856.05 1455.02L1978.32 1455.01L2100.59 1455L2222.86 1455L2345.14 1455L2467.41 1455L2589.68 1455L2711.95 1455" stroke="#ff0000" stroke-width="10.42" stroke-dasharray="38.54 16.67"/>
</g>
<path d="M388.5 1886.4v14.58M694.5 1886.4v14.58M1000.5 1886.4v14.58M1305.5 1886.4v14.58M1611.5 1886.4v14.58M1917.5 1886.4v14.58M2222.5 1886.4v14.58M2528.5 1886.4v14.58M2834.5 1886.4v14.58M266.5 1847.5h-14.58M266.5 1749.5h-14.58M266.5 1651.5h-14.58M266.5 1553.5h-14.58M266.5 1455.5h-14.58M266.5 1356.5h-14.58M266.5 1258.5h-14.58M266.5 1160.5h-14.58M266.5 1062.5h-14.58" stroke="#000" stroke-width="3.33" fill="none"/>
<rect x="266.5" y="1023.6" width="2690" height="862.8" fill="none" stroke="#000" stroke-width="3.33"/>
<g font-size="45.38" text-anchor="end">
<text x="236.33" y="1864.68">−1.00</text>
<text x="236.33" y="1766.64">−0.75</text>
<text x="236.33" y="1668.59">−0.50</text>
<text x="236.33" y="1570.55">−0.25</text>
<text x="236.33" y="1472.5">0.00</text>
<text x="236.33" y="1374.45">0.25</text>
<text x="236.33" y="1276.41">0.50</text>
<text x="236.33" y="1178.36">0.75</text>
<text x="236.33" y="1080.32">1.00</text>
</g>
<g font-size="45.38" text-anchor="middle">
<text x="387.97" y="1950.4">0.0</text>
<text x="693.65" y="1950.4">2.5</text>
<text x="999.34" y="1950.4">5.0</text>
<text x="1305.02" y="1950.4">7.5</text>
<text x="1610.7" y="1950.4">10.0</text>
<text x="1916.38" y="1950.4">12.5</text>
<text x="2222.06" y="1950.4">15.0</text>
<text x="2527.75" y="1950.4">17.5</text>
<text x="2833.43" y="1950.4">20.0</text>
</g>
<text x="1611.5" y="71" font-size="54.17" text-anchor="middle">Tube MPC: Scalar System with 50 Disturbance Realisations</text>
<text transform="translate(136.58 627.45) rotate(-90)"><tspan x="0" y="-0.39" font-size="50">State </tspan><tspan x="148.24" y="-0.39" font-size="50" font-style="italic">x</tspan><tspan x="177.83" y="7.81" font-size="35" font-style="italic">k</tspan></text>
<text transform="translate(67.11 1554.5) rotate(-90)"><tspan x="0" y="-1.04" font-size="50">Input </tspan><tspan x="145.36" y="-1.04" font-size="50" font-style="italic">u</tspan><tspan x="177.05" y="7.16" font-size="35" font-style="italic">k</tspan></text>
<text transform="translate(1463.05 2018.49)"><tspan x="0" y="-3.65" font-size="50">Time step </tspan><tspan x="263.84" y="-3.65" font-size="50" font-style="italic">k</tspan></text>
<path d="M2528.07 201.8L2924.58 201.8Q2933.75 201.8 2933.75 192.63L2933.75 128.17Q2933.75 119 2924.58 119L2528.07 119Q2518.9 119 2518.9 128.17L2518.9 192.63Q2518.9 201.8 2528.07 201.8Z" fill="#fff" fill-opacity="0.8" stroke="#ccc" stroke-opacity="0.8" stroke-width="4.17" stroke-linejoin="miter"/>
<path d="M2536.93 157.71H2628.59" stroke="#ff0000" stroke-width="10.42" stroke-dasharray="38.54 16.67" fill="none"/>
<text transform="translate(2665.26 173.78)"><tspan x="0" y="-2.67" font-size="45.83">Nominal </tspan><tspan x="204.15" y="-2.67" font-size="45.83" font-style="italic">z</tspan><tspan x="228.2" y="4.85" font-size="32.08" font-style="italic">k</tspan></text>
<path d="M298.27 1563.8L699.03 1563.8Q708.2 1563.8 708.2 1554.63L708.2 1355.97Q708.2 1346.8 699.03 1346.8L298.27 1346.8Q289.1 1346.8 289.1 1355.97L289.1 1554.63Q289.1 1563.8 298.27 1563.8Z" fill="#fff" fill-opacity="0.8" stroke="#ccc" stroke-opacity="0.8" stroke-width="4.17" stroke-linejoin="miter"/>
<path d="M307.65 1384.9H399.32" stroke="#ff0000" stroke-width="10.42" stroke-dasharray="38.54 16.67" fill="none"/>
<path d="M307.65 1452.21H399.32" stroke="#008000" stroke-opacity="0.7" stroke-width="6.25" stroke-dasharray="23.13 10" fill="none"/>
<path d="M307.65 1520.13H399.32" stroke="#008000" stroke-opacity="0.7" stroke-width="6.25" stroke-dasharray="23.13 10" fill="none"/>
<text transform="translate(435.38 1400.77)"><tspan x="0" y="-2.67" font-size="45.83">Nominal </tspan><tspan x="204.15" y="-2.67" font-size="45.83" font-style="italic">v</tspan><tspan x="231.27" y="4.85" font-size="32.08" font-style="italic">k</tspan></text>
<text transform="translate(434.98 1467.85)"><tspan x="0" y="-4.1" font-size="45.83" font-style="italic">u</tspan><tspan x="29.05" y="3.42" font-size="32.08">max</tspan></text>
<text transform="translate(434.98 1535.82)"><tspan x="0" y="-4.1" font-size="45.83" font-style="italic">u</tspan><tspan x="29.05" y="3.42" font-size="32.08">min</tspan></text>
</svg>
</body></html>
